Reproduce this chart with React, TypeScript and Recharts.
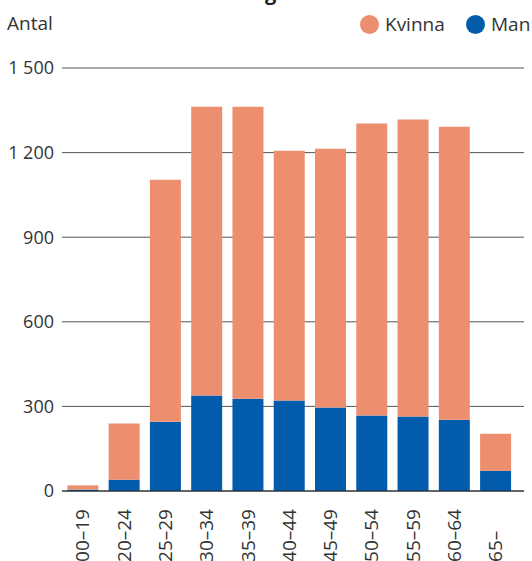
import React from 'react';
import { BarChart, Bar, XAxis, YAxis, CartesianGrid } from 'recharts';

// age groups on the x axis (last label padded with figure spaces, as in the source)
const ageGroups = ['00–19', '20–24', '25–29', '30–34', '35–39', '40–44', '45–49', '50–54', '55–59', '60–64', '65–\u2007\u2007'];
// counts per group
const man = [5, 40, 246, 339, 327, 321, 296, 268, 264, 253, 72];
const kvinna = [15, 199, 858, 1024, 1036, 886, 918, 1035, 1053, 1039, 131];
const yTicks = [0, 300, 600, 900, 1200, 1500];

const data = ageGroups.map((age, i) => ({ age, Man: man[i], Kvinna: kvinna[i] }));

const FONT = '"Open Sans", sans-serif';
const TEXT = '#333';
const ORANGE = '#ED8F6E';
const BLUE = '#035CAB';

const formatTick = (v: number) =>
  v >= 1000 ? `${Math.floor(v / 1000)} ${String(v % 1000).padStart(3, '0')}` : String(v);

const AgeTick = ({ x, y, payload }: any) => {
  const ty = y + 10;
  return (
    <text
      x={x}
      y={ty}
      dy="0.36em"
      transform={`rotate(-90, ${x}, ${ty})`}
      textAnchor="end"
      fill={TEXT}
      fontSize={19}
      fontFamily={FONT}
      style={{ whiteSpace: 'pre' }}
    >
      {payload.value}
    </text>
  );
};

const legendItems = [
  { name: 'Kvinna', color: ORANGE, left: 360 },
  { name: 'Man', color: BLUE, left: 466 },
];

export default function App() {
  return (
    <div style={{ position: 'absolute', left: 0, top: 0, width: 532, height: 561, overflow: 'hidden', background: '#fff' }}>
      <div style={{ position: 'absolute', left: 9, top: -21, fontFamily: FONT, fontSize: 20, fontWeight: 700, color: '#222', whiteSpace: 'nowrap' }}>
        Ålders- och könsfördelning
      </div>
      <div style={{ position: 'absolute', left: 7, top: 10, fontFamily: FONT, fontSize: 19, color: TEXT }}>Antal</div>
      {legendItems.map((item) => (
        <div
          key={item.name}
          style={{ position: 'absolute', left: item.left, top: 11, display: 'flex', alignItems: 'center', fontFamily: FONT, fontSize: 19, color: TEXT, whiteSpace: 'nowrap' }}
        >
          <span style={{ display: 'inline-block', width: 19, height: 19, borderRadius: '50%', background: item.color, marginRight: 6 }} />
          <span>{item.name}</span>
        </div>
      ))}
      <BarChart width={532} height={561} data={data} margin={{ top: 68, right: 8, left: 0, bottom: 0 }} barCategoryGap="13%">
        <CartesianGrid vertical={false} stroke="#555" />
        <XAxis
          dataKey="age"
          height={70}
          interval={0}
          tick={<AgeTick />}
          tickLine={false}
          axisLine={{ stroke: '#222' }}
          padding={{ left: 0, right: 8 }}
        />
        <YAxis
          width={62}
          domain={[0, 1500]}
          ticks={yTicks}
          tickFormatter={formatTick}
          tickLine={false}
          axisLine={false}
          tick={{ fill: TEXT, fontSize: 18, fontFamily: FONT }}
        />
        <Bar dataKey="Man" stackId="a" fill={BLUE} isAnimationActive={false} />
        <Bar dataKey="Kvinna" stackId="a" fill={ORANGE} isAnimationActive={false} />
      </BarChart>
    </div>
  );
}
